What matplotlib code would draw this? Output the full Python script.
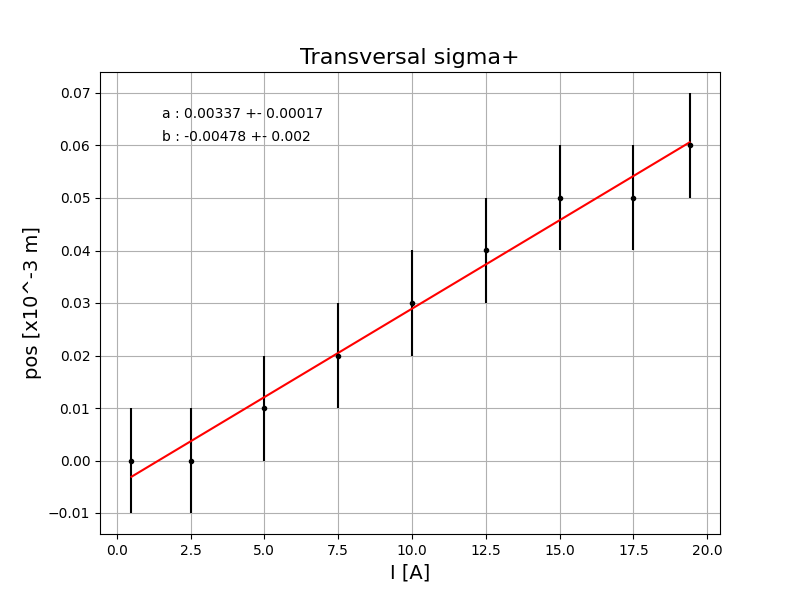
import numpy as np
import matplotlib
matplotlib.use('Agg')
import matplotlib.pyplot as plt

# measured points
current = [0.5, 2.5, 5.0, 7.5, 10.0, 12.5, 15.0, 17.5, 19.4]
pos = [0.0, 0.0, 0.01, 0.02, 0.03, 0.04, 0.05, 0.05, 0.06]
pos_err = [0.01] * len(pos)

# linear fit parameters
a, a_err = 0.00337, 0.00017
b, b_err = -0.00478, 0.002

fig, ax = plt.subplots(figsize=(8, 6), dpi=100)

ax.errorbar(current, pos, yerr=pos_err, fmt='o', color='black',
            markersize=3, elinewidth=1.5, capsize=0)
xfit = np.array([current[0], current[-1]])
ax.plot(xfit, a * xfit + b, color='red')

ax.text(0.1, 0.9, "a : %s +- %s" % (a, a_err), transform=ax.transAxes)
ax.text(0.1, 0.85, "b : %s +- %s" % (b, b_err), transform=ax.transAxes)

ax.set_xlim(-0.566, 20.43)
ax.set_title('Transversal sigma+', fontsize=16)
ax.set_xlabel('I [A]', fontsize=14)
ax.set_ylabel('pos [x10^-3 m]', fontsize=14)
ax.grid(True)

fig.savefig('out.png')
